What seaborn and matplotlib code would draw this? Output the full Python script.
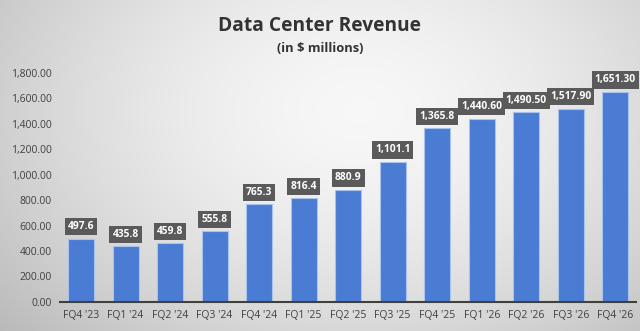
import numpy as np
import pandas as pd
import matplotlib
matplotlib.use("Agg")
import matplotlib.pyplot as plt
import seaborn as sns

quarters = ["FQ4 '23", "FQ1 '24", "FQ2 '24", "FQ3 '24", "FQ4 '24", "FQ1 '25", "FQ2 '25",
            "FQ3 '25", "FQ4 '25", "FQ1 '26", "FQ2 '26", "FQ3 '26", "FQ4 '26"]
revenue = [497.6, 435.8, 459.8, 555.8, 765.3, 816.4, 880.9, 1101.1, 1365.8,
           1440.60, 1490.50, 1517.90, 1651.30]
value_labels = ["497.6", "435.8", "459.8", "555.8", "765.3", "816.4", "880.9", "1,101.1",
                "1,365.8", "1,440.60", "1,490.50", "1,517.90", "1,651.30"]
yticks = [0, 200, 400, 600, 800, 1000, 1200, 1400, 1600, 1800]

df = pd.DataFrame({"quarter": quarters, "revenue": revenue})

sns.set_theme(style="white")
plt.rcParams["font.family"] = ["Open Sans", "DejaVu Sans"]

fig = plt.figure(figsize=(6.4, 3.31), dpi=100)

# background gradient
bg = fig.add_axes([0, 0, 1, 1], zorder=-10)
yy, xx = np.mgrid[0:331, 0:640]
d = np.sqrt(((xx - 360) / 420.0) ** 2 + ((yy - 110) / 300.0) ** 2)
val = np.clip(0.97 - 0.20 * d ** 1.6, 0.72, 0.97)
bg.imshow(np.dstack([val, val, val]), aspect="auto", extent=[0, 1, 0, 1])
bg.axis("off")

ax = fig.add_axes([0.094, 0.088, 0.900, 0.692])
ax.patch.set_alpha(0)
sns.barplot(data=df, x="quarter", y="revenue", color="#4A7CD3", width=0.58,
            saturation=1, edgecolor="#A9C3EC", linewidth=0.8, ax=ax)
ax.set_xlim(-0.47, len(quarters) - 0.53)
ax.set_ylim(0, 1800)
ax.set_yticks(yticks)
ax.set_yticklabels([f"{v:,.2f}" for v in yticks], fontsize=7.5, color="#404040")
ax.tick_params(axis="x", labelsize=7.5, labelcolor="#404040", length=0, pad=6)
ax.tick_params(axis="y", length=0, pad=6)
ax.set_xlabel("")
ax.set_ylabel("")
for s in ["top", "right", "left"]:
    ax.spines[s].set_visible(False)
ax.spines["bottom"].set_color("#404040")
ax.spines["bottom"].set_linewidth(1.5)

for i, (v, lab) in enumerate(zip(revenue, value_labels)):
    ax.annotate(lab, (i, v), xytext=(0, 8.5), textcoords="offset points",
                ha="center", va="center", fontsize=7.4, fontweight="bold", color="white",
                annotation_clip=False,
                bbox=dict(boxstyle="square,pad=0.3", fc="#5A5A5A", ec="none"))

fig.text(0.5, 0.921, "Data Center Revenue", ha="center", va="center",
         fontsize=13.8, fontweight="bold", color="#333333")
fig.text(0.5, 0.852, "(in $ millions)", ha="center", va="center",
         fontsize=9.3, fontweight="bold", color="#333333")

fig.savefig("out.png", dpi=100)
